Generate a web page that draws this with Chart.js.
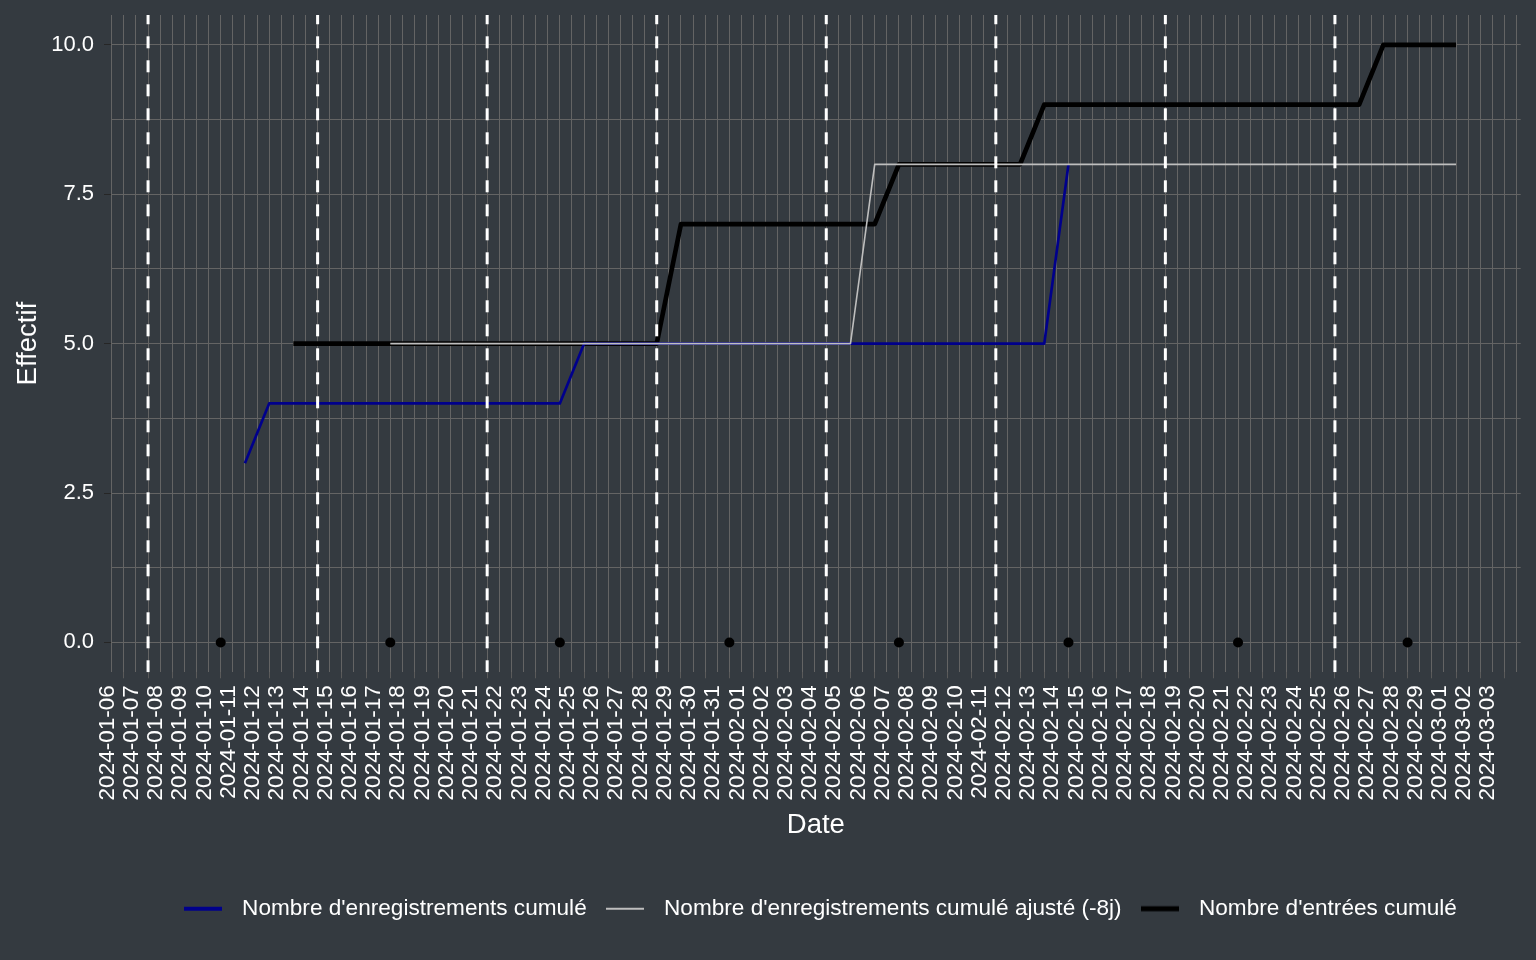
<!DOCTYPE html>
<html>
<head>
<meta charset="utf-8">
<script src="https://cdn.jsdelivr.net/npm/chart.js@4.4.1/dist/chart.umd.min.js"></script>
<style>
  html, body { margin: 0; padding: 0; background: #343a40; }
  canvas { display: block; }
</style>
</head>
<body>
<canvas id="chart" width="1536" height="960"></canvas>
<script>
// ---------- DATA ----------
const DATES = [
  '2024-01-06','2024-01-07','2024-01-08','2024-01-09','2024-01-10','2024-01-11','2024-01-12','2024-01-13',
  '2024-01-14','2024-01-15','2024-01-16','2024-01-17','2024-01-18','2024-01-19','2024-01-20','2024-01-21',
  '2024-01-22','2024-01-23','2024-01-24','2024-01-25','2024-01-26','2024-01-27','2024-01-28','2024-01-29',
  '2024-01-30','2024-01-31','2024-02-01','2024-02-02','2024-02-03','2024-02-04','2024-02-05','2024-02-06',
  '2024-02-07','2024-02-08','2024-02-09','2024-02-10','2024-02-11','2024-02-12','2024-02-13','2024-02-14',
  '2024-02-15','2024-02-16','2024-02-17','2024-02-18','2024-02-19','2024-02-20','2024-02-21','2024-02-22',
  '2024-02-23','2024-02-24','2024-02-25','2024-02-26','2024-02-27','2024-02-28','2024-02-29','2024-03-01',
  '2024-03-02','2024-03-03'
];

// Nombre d'enregistrements cumulé (one value per date above, null = no data)
const REG_CUM = [
  null,null,null,null,null,null,3,4,
  4,4,4,4,4,4,4,4,
  4,4,4,4,5,5,5,5,
  5,5,5,5,5,5,5,5,
  5,5,5,5,5,5,5,5,
  8,null,null,null,null,null,null,null,
  null,null,null,null,null,null,null,null,
  null,null
];

// Nombre d'enregistrements cumulé ajusté (-8j)
const REG_ADJ = [
  null,null,null,null,null,null,null,null,
  null,null,null,null,5,5,5,5,
  5,5,5,5,5,5,5,5,
  5,5,5,5,5,5,5,5,
  8,8,8,8,8,8,8,8,
  8,8,8,8,8,8,8,8,
  8,8,8,8,8,8,8,8,
  8,null
];

// Nombre d'entrées cumulé
const ENT_CUM = [
  null,null,null,null,null,null,null,null,
  5,5,5,5,5,5,5,5,
  5,5,5,5,5,5,5,5,
  7,7,7,7,7,7,7,7,
  7,8,8,8,8,8,8,9,
  9,9,9,9,9,9,9,9,
  9,9,9,9,9,10,10,10,
  10,null
];

const MARKER_DATES  = ['2024-01-11','2024-01-18','2024-01-25','2024-02-01','2024-02-08','2024-02-15','2024-02-22','2024-02-29'];
const MARKER_VALUES = [0,0,0,0,0,0,0,0];

const VLINE_DATES = ['2024-01-08','2024-01-15','2024-01-22','2024-01-29','2024-02-05','2024-02-12','2024-02-19','2024-02-26'];

const SERIES_NAMES = [
  "Nombre d'enregistrements cumulé",
  "Nombre d'enregistrements cumulé ajusté (-8j)",
  "Nombre d'entrées cumulé"
];

const Y_MAJOR  = [0, 2.5, 5, 7.5, 10];
const Y_LABELS = ['0.0', '2.5', '5.0', '7.5', '10.0'];
const Y_MINOR  = [1.25, 3.75, 6.25, 8.75];

// ---------- STYLE ----------
const BG = '#343a40';
const GRID = '#646464';
const XTICK = '#5a5a5a';
const YTICK = '#262626';
const NONE = 'rgba(0,0,0,0)';
const TEXT = '#ffffff';
const SERIES_COLORS = ['#00008b', '#bebebe', '#000000'];
const SERIES_WIDTHS = [2.7, 1.6, 4.7];
const KEY_WIDTHS = [4, 2, 5];
const FONT = '"Liberation Sans", Arial, sans-serif';

const X_MIN = 0.47, X_MAX = 58.67, Y_MIN = -0.5, Y_MAX = 10.5;

// ---------- HELPERS ----------
const dayIndex = d => DATES.indexOf(d);
const toPoints = vals => vals.map((v, i) => (v === null ? null : { x: i, y: v })).filter(p => p !== null);

// x ticks: every half day (minor + major), plus the first date label sitting left of the panel
const X_TICKS = [0];
for (let k = 1; k <= 2 * DATES.length + 1; k++) {
  const v = k / 2;
  if (v >= X_MIN && v <= X_MAX) X_TICKS.push(v);
}

function keyCanvas(color, w) {
  const c = document.createElement('canvas');
  c.width = 38; c.height = 8;
  const g = c.getContext('2d');
  g.strokeStyle = color;
  g.lineWidth = w;
  g.beginPath();
  g.moveTo(0, 4); g.lineTo(38, 4);
  g.stroke();
  return c;
}
const KEYS = SERIES_COLORS.map((c, i) => keyCanvas(c, KEY_WIDTHS[i]));

Chart.defaults.font.family = FONT;
Chart.defaults.color = TEXT;

const bgPlugin = {
  id: 'bg',
  beforeDraw(chart) {
    const c = chart.ctx;
    c.save();
    c.fillStyle = BG;
    c.fillRect(0, 0, chart.width, chart.height);
    c.restore();
  }
};

const lineBase = { type: 'line', pointRadius: 0, tension: 0, fill: false, borderJoinStyle: 'round', borderCapStyle: 'butt' };

const datasets = [
  Object.assign({}, lineBase, { label: SERIES_NAMES[0], data: toPoints(REG_CUM), borderColor: SERIES_COLORS[0], borderWidth: SERIES_WIDTHS[0], order: 3 }),
  Object.assign({}, lineBase, { label: SERIES_NAMES[1], data: toPoints(REG_ADJ), borderColor: SERIES_COLORS[1], borderWidth: SERIES_WIDTHS[1], order: 2 }),
  Object.assign({}, lineBase, { label: SERIES_NAMES[2], data: toPoints(ENT_CUM), borderColor: SERIES_COLORS[2], borderWidth: SERIES_WIDTHS[2], order: 4 }),
  {
    type: 'scatter', label: 'markers',
    data: MARKER_DATES.map((d, i) => ({ x: dayIndex(d), y: MARKER_VALUES[i] })),
    pointRadius: 5, backgroundColor: '#000000', borderWidth: 0, order: 1
  }
].concat(VLINE_DATES.map(d => Object.assign({}, lineBase, {
  label: 'vline',
  data: [{ x: dayIndex(d), y: Y_MIN }, { x: dayIndex(d), y: Y_MAX }],
  borderColor: '#ffffff', borderWidth: 3, borderDash: [12, 12], order: 0
})));

new Chart(document.getElementById('chart'), {
  type: 'line',
  data: { datasets },
  plugins: [bgPlugin],
  options: {
    responsive: false,
    animation: false,
    devicePixelRatio: 1,
    events: [],
    layout: { padding: { top: 15, right: 15.3, bottom: 30, left: 0 } },
    scales: {
      x: {
        type: 'linear', min: X_MIN, max: X_MAX, bounds: 'data',
        afterBuildTicks: s => { s.ticks = X_TICKS.map(v => ({ value: v })); },
        afterFit: s => { s.height = 215.1; s.paddingLeft = 0; s.paddingRight = 0; },
        ticks: {
          autoSkip: false, minRotation: 90, maxRotation: 90, labelOffset: 8, padding: 7,
          color: TEXT, font: { size: 22.5 },
          callback: v => (Number.isInteger(v) && v < DATES.length ? DATES[v] : '')
        },
        grid: {
          lineWidth: 1, tickLength: 6,
          color: c => (c.tick && c.tick.value < X_MIN ? NONE : GRID),
          tickColor: c => (c.tick && Number.isInteger(c.tick.value) && c.tick.value >= X_MIN ? XTICK : NONE)
        },
        border: { display: false },
        title: { display: true, text: 'Date', color: TEXT, font: { size: 27.5 }, padding: { top: 0, bottom: 45.5 } }
      },
      y: {
        type: 'linear', min: Y_MIN, max: Y_MAX, bounds: 'data',
        afterBuildTicks: s => { s.ticks = Y_MAJOR.concat(Y_MINOR).sort((a, b) => a - b).map(v => ({ value: v })); },
        afterFit: s => { s.width = 111; s.paddingTop = 0; s.paddingBottom = 0; },
        ticks: {
          autoSkip: false, padding: 10, color: TEXT, font: { size: 22 },
          callback: v => { const k = Y_MAJOR.indexOf(v); return k >= 0 ? Y_LABELS[k] : ''; }
        },
        grid: {
          lineWidth: 1, tickLength: 7, color: GRID,
          tickColor: c => (c.tick && Y_MAJOR.includes(c.tick.value) ? YTICK : NONE)
        },
        border: { display: false },
        title: { display: true, text: 'Effectif', color: TEXT, font: { size: 27.5 }, padding: { top: 12, bottom: 0 } }
      }
    },
    plugins: {
      tooltip: { enabled: false },
      legend: {
        position: 'bottom', fullSize: false, align: 'center',
        onClick: () => {},
        labels: {
          usePointStyle: true, pointStyleWidth: 56, boxHeight: 8, padding: 10,
          color: TEXT, font: { size: 22.6 },
          generateLabels: () => SERIES_NAMES.map((name, i) => ({
            text: name, pointStyle: KEYS[i], fillStyle: SERIES_COLORS[i], strokeStyle: SERIES_COLORS[i],
            lineWidth: 0, hidden: false, datasetIndex: i, fontColor: TEXT
          }))
        }
      }
    }
  }
});
</script>
</body>
</html>
